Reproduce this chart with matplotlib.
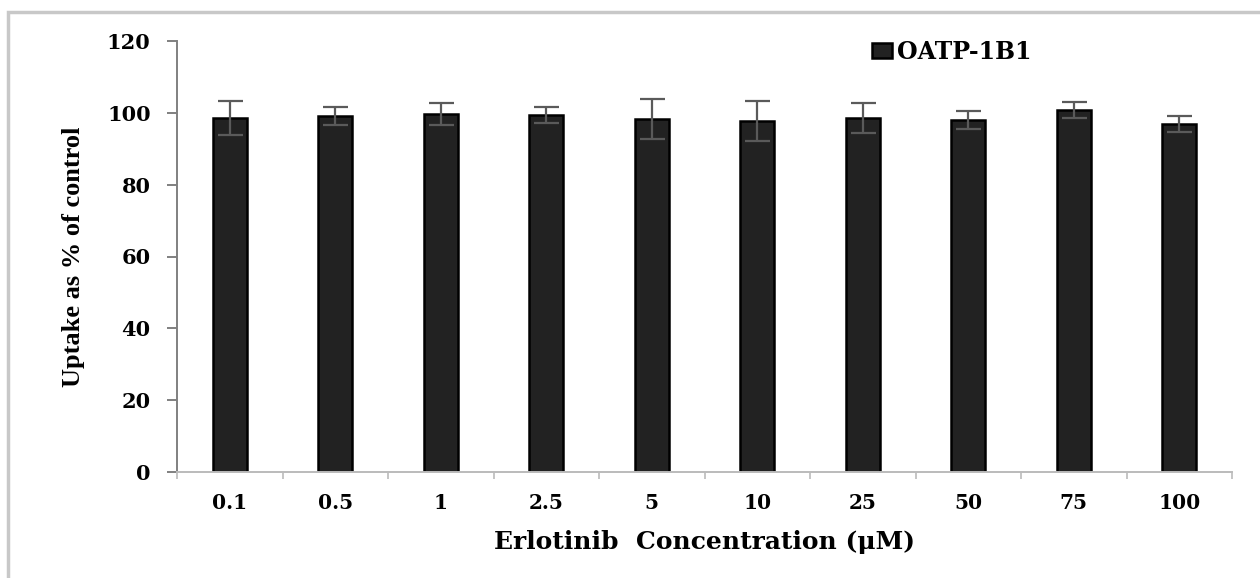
import matplotlib
matplotlib.use('Agg')
import matplotlib.pyplot as plt
from matplotlib.patches import Rectangle
import numpy as np

# Erlotinib concentrations (uM) and OATP-1B1 uptake (% of control)
concentrations = ['0.1', '0.5', '1', '2.5', '5', '10', '25', '50', '75', '100']
uptake = [98.6, 99.2, 99.7, 99.4, 98.3, 97.8, 98.6, 97.9, 100.8, 96.9]
uptake_err = [4.7, 2.5, 3.0, 2.3, 5.5, 5.6, 4.2, 2.5, 2.2, 2.3]
series_name = 'OATP-1B1'

wide_serif = ['DejaVu Serif']
plt.rcParams['font.family'] = wide_serif
plt.rcParams['font.weight'] = 'bold'

fig = plt.figure(figsize=(12.6, 5.78), dpi=100)
ax = fig.add_axes([177 / 1260, 1 - 472 / 578, (1232 - 177) / 1260, (472 - 41) / 578])

# light grey frame round the whole picture
fig.patches.append(Rectangle((8 / 1260, -0.1), 1.2, 1 - 12 / 578 + 0.1,
                             transform=fig.transFigure, fill=False,
                             edgecolor='#c8c8c8', linewidth=2.5))

x = np.arange(len(concentrations))
ax.bar(x, uptake, width=0.32, color='#222222', edgecolor='black',
       linewidth=1.8, label=series_name, zorder=2)
ax.errorbar(x, uptake, yerr=uptake_err, fmt='none', ecolor='#5a5a5a',
            elinewidth=1.6, capsize=9, capthick=1.6, zorder=3)

ax.set_xlim(-0.5, len(concentrations) - 0.5)
ax.set_ylim(0, 120)
ax.set_yticks(np.arange(0, 121, 20))
ax.set_xticks(x)
ax.set_xticklabels(concentrations)
ax.set_xticks(np.arange(-0.5, len(concentrations)), minor=True)
ax.tick_params(axis='x', which='major', length=0, labelsize=14.5, pad=15)
ax.tick_params(axis='x', which='minor', length=5, color='#bbbbbb', width=1.2, direction='out')
ax.tick_params(axis='y', length=7, color='#808080', width=1.4, labelsize=15, pad=12)

for side in ['top', 'right']:
    ax.spines[side].set_visible(False)
ax.spines['left'].set_color('#808080')
ax.spines['left'].set_linewidth(1.4)
ax.spines['bottom'].set_color('#bbbbbb')
ax.spines['bottom'].set_linewidth(1.4)

ax.set_ylabel('Uptake as % of control', fontsize=19, fontweight='bold',
              family=['Liberation Serif', 'DejaVu Serif'])
ax.yaxis.set_label_coords(-92 / 1055, 0.5)
ax.set_xlabel('Erlotinib  Concentration (\u03bcM)', fontsize=18, fontweight='bold')
ax.xaxis.set_label_coords(0.5, -58 / 431)

leg = ax.legend(loc='center left', bbox_to_anchor=(0.65, 0.975), frameon=False,
                handlelength=0.85, handleheight=0.65, handletextpad=0.2,
                borderaxespad=0, prop={'weight': 'bold', 'size': 17})

fig.savefig('out.png', dpi=100)
